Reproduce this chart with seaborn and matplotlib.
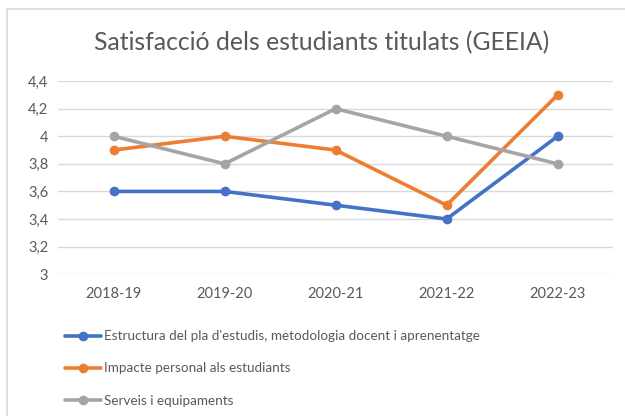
import pandas as pd
import numpy as np
import matplotlib
matplotlib.use("Agg")
import matplotlib.pyplot as plt
import seaborn as sns
from matplotlib.lines import Line2D

# data
cursos = ["2018-19", "2019-20", "2020-21", "2021-22", "2022-23"]
estructura = [3.6, 3.6, 3.5, 3.4, 4.0]
impacte = [3.9, 4.0, 3.9, 3.5, 4.3]
serveis = [4.0, 3.8, 4.2, 4.0, 3.8]
series_names = ["Estructura del pla d'estudis, metodologia docent i aprenentatge",
                "Impacte personal als estudiants",
                "Serveis i equipaments"]
colors = ["#4472C4", "#ED7D31", "#A5A5A5"]
yticks = [3, 3.2, 3.4, 3.6, 3.8, 4, 4.2, 4.4]

df = pd.DataFrame({
    "curs": cursos * 3,
    "valor": estructura + impacte + serveis,
    "serie": [series_names[0]] * 5 + [series_names[1]] * 5 + [series_names[2]] * 5,
})

sns.set_theme(style="white")
plt.rcParams['font.family'] = ['Lato', 'DejaVu Sans']
txt = "#595959"

fig = plt.figure(figsize=(6.25, 4.16), dpi=100)
ax = fig.add_axes([0.093, 0.341, 0.888, 0.464])

sns.lineplot(data=df, x="curs", y="valor", hue="serie", palette=colors,
             hue_order=series_names, marker="o", markersize=7, markeredgewidth=0,
             linewidth=2.6, sort=False, legend=False, ax=ax)

ax.set_xlim(-0.5, 4.5)
ax.set_ylim(3, 4.4)
ax.set_yticks(yticks)
ax.set_yticklabels([f"{v:g}".replace(".", ",") for v in yticks])
ax.yaxis.grid(True, color="#D9D9D9", linewidth=1)
ax.set_axisbelow(True)
for s in ax.spines.values():
    s.set_visible(False)
ax.set_xlabel("")
ax.set_ylabel("")
ax.tick_params(axis="both", colors=txt, labelsize=10.5, length=0)
ax.tick_params(axis="y", pad=7)
ax.tick_params(axis="x", pad=9)

fig.text(0.515, 0.898, "Satisfacció dels estudiants titulats (GEEIA)",
         ha="center", va="center", fontsize=17.8, color=txt)

handles = [Line2D([], [], color=c, linewidth=2.6, marker="o", markersize=7,
                  markeredgewidth=0) for c in colors]
fig.legend(handles, series_names, loc="upper left", bbox_to_anchor=(0.095, 0.219),
           frameon=False, fontsize=9.7, labelcolor=txt, handlelength=2.7,
           handletextpad=0.2, labelspacing=1.5, borderaxespad=0)

# chart border (cropped at right and bottom)
fig.add_artist(Line2D([0.0112, 0.0112], [0, 0.978], color="#D9D9D9", linewidth=1.2,
                      transform=fig.transFigure))
fig.add_artist(Line2D([0.0112, 1], [0.978, 0.978], color="#D9D9D9", linewidth=1.2,
                      transform=fig.transFigure))

plt.savefig("out.png", dpi=100)
